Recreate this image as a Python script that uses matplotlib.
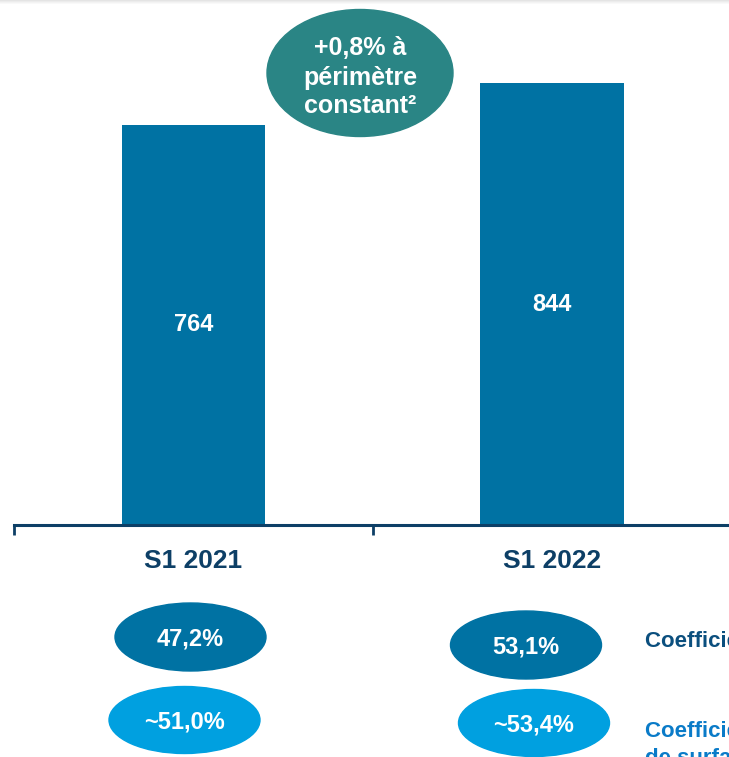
import matplotlib
matplotlib.use('Agg')
import matplotlib.pyplot as plt
from matplotlib.patches import Ellipse

# Données
periodes = ["S1 2021", "S1 2022"]
valeurs = [764, 844]
coef_1 = ["47,2%", "53,1%"]
coef_2 = ["~51,0%", "~53,4%"]
bulle = ["+0,8% à", "périmètre", "constant²"]
legende = ["Coefficient d'occupation", "Coefficient d'occupation", "de surface"]

bleu_barre = '#0072a3'
bleu_clair = '#00a0e0'
bleu_fonce = '#0b4f7e'
navy = '#0d3f66'
teal = '#2a8585'

plt.rcParams['font.family'] = ['Liberation Sans', 'DejaVu Sans']

W, H = 729, 757
fig = plt.figure(figsize=(W / 100, H / 100), dpi=100)

# Axe principal (barres)
base = 525
ax = fig.add_axes([14 / W, (H - base) / H, 1 - 14 / W, base / H])
x = list(range(len(periodes)))
ax.bar(x, valeurs, width=0.4, color=bleu_barre)
ax.set_xlim(-0.5, 1.493)
ax.set_ylim(0, base / 0.5236)
for i, v in enumerate(valeurs):
    ax.text(i, v / 2, str(v), color='white', ha='center', va='center',
            fontsize=17, fontweight='bold')

for s in ['top', 'right', 'left']:
    ax.spines[s].set_visible(False)
ax.spines['bottom'].set_color(navy)
ax.spines['bottom'].set_linewidth(2.2)
ax.set_yticks([])
ax.set_xticks(x)
ax.set_xticklabels(periodes, fontsize=19, fontweight='bold', color=navy)
ax.tick_params(axis='x', which='major', length=0, pad=17)
ax.set_xticks([-0.5, 0.5], minor=True)
ax.tick_params(axis='x', which='minor', length=7, width=2, color=navy)

# Calque en pixels pour les bulles
ov = fig.add_axes([0, 0, 1, 1], zorder=5)
ov.set_xlim(0, W)
ov.set_ylim(H, 0)
ov.axis('off')
ov.patch.set_alpha(0)

# légère ombre en haut
for k, c in enumerate(['#e4e4e4', '#ececec', '#f3f3f3', '#f9f9f9']):
    ov.axhspan(k, k + 1, color=c, lw=0)

ov.add_patch(Ellipse((360, 73), 186, 127, color=teal))
for ly, t in zip([48, 78, 106], bulle):
    ov.text(360, ly, t, color='white', ha='center', va='center',
            fontsize=18, fontweight='bold')

pos_1 = [(190.5, 637), (526, 645)]
pos_2 = [(184.5, 720), (534, 723)]
for (cx, cy), t in zip(pos_1, coef_1):
    ov.add_patch(Ellipse((cx, cy), 151, 68, color=bleu_barre))
    ov.text(cx, cy + 2, t, color='white', ha='center', va='center',
            fontsize=17, fontweight='bold')
for (cx, cy), t in zip(pos_2, coef_2):
    ov.add_patch(Ellipse((cx, cy), 151, 67, color=bleu_clair))
    ov.text(cx, cy + 2, t, color='white', ha='center', va='center',
            fontsize=17, fontweight='bold')

ov.text(645, 641, legende[0], color=bleu_fonce, ha='left', va='center',
        fontsize=16, fontweight='bold')
ov.text(645, 731, legende[1], color='#0a7bc8', ha='left', va='center',
        fontsize=16, fontweight='bold')
ov.text(645, 759, legende[2], color='#0a7bc8', ha='left', va='center',
        fontsize=16, fontweight='bold')

fig.savefig('out.png', dpi=100)
